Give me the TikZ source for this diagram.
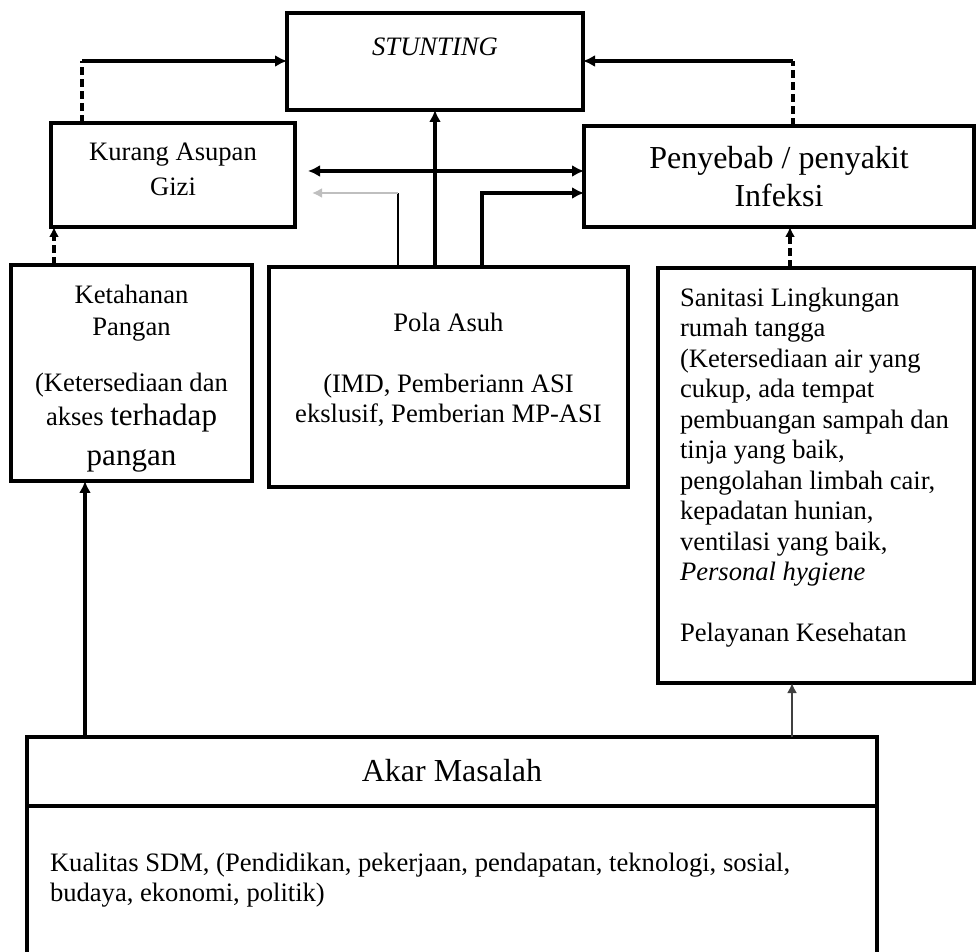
\documentclass[tikz,border=0pt]{standalone}
\usepackage{fontspec}
\setmainfont{Liberation Serif}
\usetikzlibrary{arrows.meta,positioning}

\begin{document}
\begin{tikzpicture}[
  x=0.5pt, y=-0.5pt,
  box/.style={
    draw,
    line width=2.2pt,
    anchor=north west,
    inner sep=0pt,
    outer sep=0pt,
    align=center
  },
  txt/.style={
    inner sep=0pt,
    outer sep=0pt,
    font=\fontsize{13.3}{15.25}\selectfont
  },
  arrow/.style={-{Latex[length=6pt,width=6pt]},line width=2pt},
  bothways/.style={{Latex[length=6pt,width=6pt]}-{Latex[length=6pt,width=6pt]},line width=2pt},
  dashline/.style={line width=1.6pt,dash pattern=on 4pt off 2pt},
  dasharrow/.style={-{Latex[length=5pt,width=5pt]},line width=1.6pt,dash pattern=on 4pt off 2pt},
  thinarrow/.style={-{Latex[length=5pt,width=5pt]},line width=1.2pt}
]
\useasboundingbox (0,0) rectangle (976,952);

\node[box,minimum width=148pt,minimum height=48.5pt] (stunting) at (287,13) {};
\node[box,minimum width=122pt,minimum height=52pt] (gizi) at (51,123) {};
\node[box,minimum width=195pt,minimum height=50.5pt,
  font=\fontsize{16}{19}\selectfont] (infeksi) at (584,126)
  {Penyebab / penyakit\\Infeksi};
\node[box,minimum width=120.5pt,minimum height=108pt] (pangan) at (11,265) {};
\node[box,minimum width=179.5pt,minimum height=110pt] (asuh) at (269,267) {};
\node[box,minimum width=158pt,minimum height=207.5pt] (sanitasi) at (658,268) {};
\node[box,minimum width=425pt,minimum height=115pt] (akar) at (27,737) {};
\draw[line width=2.2pt] ([yshift=-34.5pt]akar.north west) -- ([yshift=-34.5pt]akar.north east);

\node[txt,below=12.5pt of stunting.north] (stuntingText) {\textit{STUNTING}};
\node[txt,align=center,font=\fontsize{13.3}{17.5}\selectfont,
  below=10pt of gizi.north] (giziText) {Kurang Asupan\\Gizi};
\node[txt,align=center,below=10pt of pangan.north] (panganText)
  {Ketahanan\\[0.75pt]Pangan\\[13pt]
   (Ketersediaan dan\\[1.5pt]
   akses {\fontsize{15.5}{18}\selectfont terhadap}\\[5pt]
   {\fontsize{15.5}{18}\selectfont pangan}};
\node[txt,align=center,below=23pt of asuh.north] (asuhText)
  {Pola Asuh\\[15.25pt]
   (IMD, Pemberiann ASI\\
   ekslusif, Pemberian MP-ASI};
\node[txt,align=left,below right=10pt and 11pt of sanitasi.north west] (sanitasiText)
  {Sanitasi Lingkungan\\
   rumah tangga\\
   (Ketersediaan air yang\\
   cukup, ada tempat\\
   pembuangan sampah dan\\
   tinja yang baik,\\
   pengolahan limbah cair,\\
   kepadatan hunian,\\
   ventilasi yang baik,\\
   \textit{Personal hygiene}\\[15.25pt]
   Pelayanan Kesehatan};
\node[txt,font=\fontsize{16}{19}\selectfont,below=11pt of akar.north] (akarTitle) {Akar Masalah};
\node[txt,align=left,font=\fontsize{13.3}{15}\selectfont,
  below right=58pt and 11.5pt of akar.north west] (akarText)
  {Kualitas SDM, (Pendidikan, pekerjaan, pendapatan, teknologi, sosial,\\
   budaya, ekonomi, politik)};

\coordinate (giziUp) at (82,61);
\coordinate (infeksiUp) at (793,61);
\coordinate (bothLeft) at (308,171);
\coordinate (grayTip) at (312,193);
\coordinate (grayBend) at (398,193);
\coordinate (asuhBend) at (482,193);

\draw[dashline] ([xshift=15.5pt]gizi.north west) -- (giziUp);
\draw[arrow] (giziUp) -- (giziUp -| stunting.west);
\draw[dashline] (infeksiUp |- infeksi.north) -- (infeksiUp);
\draw[arrow] (infeksiUp) -- (infeksiUp -| stunting.east);
\draw[arrow] (asuh.north -| stunting.south) -- (stunting.south);
\draw[bothways] (bothLeft) -- (bothLeft -| infeksi.west);
\draw[line width=1pt] (grayBend |- asuh.north) -- (grayBend);
\draw[thinarrow,black!25] (grayBend) -- (grayTip);
\draw[arrow] (asuhBend |- asuh.north) -- (asuhBend) -- (asuhBend -| infeksi.west);
\draw[dasharrow] ([xshift=21.5pt]pangan.north west) -- ([xshift=21.5pt]pangan.north west |- gizi.south);
\draw[dasharrow] ([xshift=66pt]sanitasi.north west) -- ([xshift=66pt]sanitasi.north west |- infeksi.south);
\draw[arrow] ([xshift=29pt]akar.north west) -- ([xshift=29pt]akar.north west |- pangan.south);
\draw[thinarrow,black!75] ([xshift=382.5pt]akar.north west) -- ([xshift=382.5pt]akar.north west |- sanitasi.south);
\end{tikzpicture}
\end{document}
